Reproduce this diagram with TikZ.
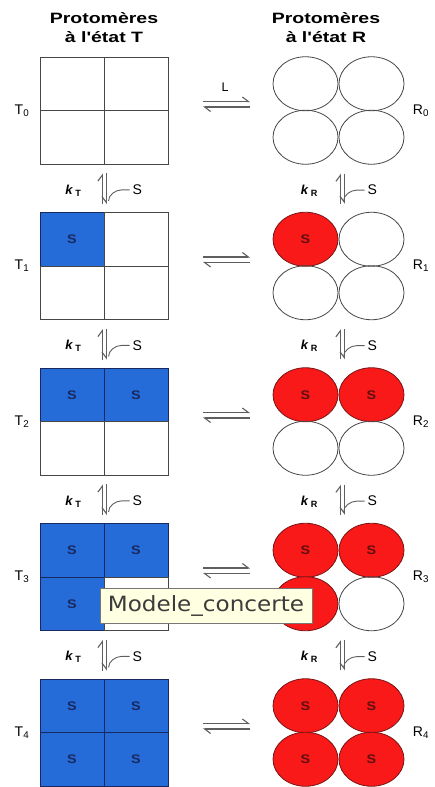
\documentclass[tikz,border=0pt]{standalone}
\usepackage{fontspec}
\setmainfont{Liberation Sans}
\newfontfamily\tipfont{DejaVu Sans}
\usetikzlibrary{arrows.meta,shapes.geometric,calc}
\definecolor{protblue}{RGB}{38,108,216}
\definecolor{navytext}{RGB}{25,40,95}
\definecolor{protred}{RGB}{250,25,25}
\definecolor{rededge}{RGB}{120,20,20}
\definecolor{redtext}{RGB}{95,15,15}
\definecolor{edgegray}{RGB}{70,70,70}
\definecolor{arrowgray}{RGB}{95,95,95}
\definecolor{tipfill}{RGB}{255,255,225}
\definecolor{tipedge}{RGB}{118,118,118}
\definecolor{tiptext}{RGB}{60,60,60}
\newcommand{\wide}[2][1.3]{\scalebox{#1}[1]{#2}}

\tikzset{
	cellT/.style={draw=edgegray, line width=0.8pt, minimum width=64pt, minimum height=53.5pt, inner sep=0pt},
	cellTS/.style={cellT, fill=protblue, draw=navytext, text=navytext, font=\bfseries\fontsize{12.5}{14}\selectfont},
	cellR/.style={ellipse, draw=edgegray, line width=0.8pt, minimum width=65pt, minimum height=54pt, inner sep=0pt},
	cellRS/.style={cellR, fill=protred, draw=rededge, text=redtext, font=\bfseries\fontsize{12.5}{14}\selectfont},
	harp/.style={draw=arrowgray, line width=1.1pt, -{Straight Barb[left,length=6pt,width=9pt]}},
	harpr/.style={draw=arrowgray, line width=1.1pt, -{Straight Barb[right,length=6pt,width=9pt]}},
	conn/.style={draw=arrowgray, line width=0.9pt},
	lbl/.style={font=\fontsize{14}{16}\selectfont, inner sep=0pt},
	klbl/.style={font=\bfseries\fontsize{13}{15}\selectfont, inner sep=0pt},
	head/.style={align=center, font=\bfseries\fontsize{15}{19}\selectfont, inner sep=0pt},
	tip/.style={draw=tipedge, fill=tipfill, line width=0.8pt, minimum width=212pt, minimum height=35pt, inner sep=0pt, text=tiptext, font=\tipfont\fontsize{21}{24}\selectfont}
}

\begin{document}
\begin{tikzpicture}[x=1pt, y=-1pt]
	\useasboundingbox (0,0) rectangle (434,787);
	% Headers:
	\node[head] (headT) at (104,28) {\wide{Protomères}\\\wide{à l\textquotesingle état T}};
	\node[head] (headR) at (326,28) {\wide{Protomères}\\\wide{à l\textquotesingle état R}};
	% Rows of protomers:
	\foreach \i in {0,...,4}{
		\pgfmathsetmacro\ty{57+155.5*\i}
		\foreach \k/\cx/\rx/\cy in {1/72/305.5/26.75, 2/136/371.5/26.75, 3/72/305.5/80.25, 4/136/371.5/80.25}{
			\ifnum\k>\i
				\node[cellT] (t\i-\k) at (\cx,\ty+\cy) {};
				\node[cellR] (r\i-\k) at (\rx,\ty+\cy) {};
			\else
				\node[cellTS] (t\i-\k) at (\cx,\ty+\cy) {\wide[1.15]{S}};
				\node[cellRS] (r\i-\k) at (\rx,\ty+\cy) {\ifnum\i\k=33\else\wide[1.15]{S}\fi};
			\fi
		}
		\node[lbl] (tl\i) at (22,\ty+53.5) {T\textsubscript{\i}};
		\node[lbl] (rl\i) at (421,\ty+53.5) {R\textsubscript{\i}};
		\coordinate (eq\i-w) at (203,\ty+44.5);
		\coordinate (eq\i-e) at (250,\ty+44.5);
		\draw[harp] (eq\i-w) -- (eq\i-e);
		\draw[harp] ($(eq\i-e)+(0,5.5)$) -- ($(eq\i-w)+(0,5.5)$);
		\coordinate (rb\i) at (r\i-3.south -| r\i-3.east);
		\coordinate (rt\i) at (r\i-1.north -| r\i-1.east);
	}
	\node[lbl, font=\fontsize{12.5}{14}\selectfont] (lig) at (225,87) {L};
	% Binding steps:
	\foreach \i in {0,...,3}{
		\pgfmathtruncatemacro\j{\i+1}
		\draw[harp] ($(t\j-1.north east)+(-2,-8)$) -- ($(t\i-3.south east)+(-2,9)$);
		\draw[harpr] ($(t\i-3.south east)+(2,9)$) -- ($(t\j-1.north east)+(2,-8)$);
		\node[lbl] (st\i) at ($(t\i-3.south east)+(33,25.5)$) {S};
		\node[klbl] (kt\i) at ($(t\i-3.south east)+(-31,26)$) {\textit{k}\,\textsubscript{T}};
		\draw[conn] ([xshift=-3pt]st\i.west) -- ++(-8,0) .. controls +(-6,0) and +(0,-6) .. ++(-13,11);
		\draw[harp] ($(rt\j)+(2,-8)$) -- ($(rb\i)+(2,9)$);
		\draw[harpr] ($(rb\i)+(6,9)$) -- ($(rt\j)+(6,-8)$);
		\node[lbl] (sr\i) at ($(rb\i)+(34,25.5)$) {S};
		\node[klbl] (kr\i) at ($(rb\i)+(-29,26)$) {\textit{k}\,\textsubscript{R}};
		\draw[conn] ([xshift=-3pt]sr\i.west) -- ++(-8,0) .. controls +(-6,0) and +(0,-6) .. ++(-13,11);
	}
	% Tooltip:
	\node[tip] (tooltip) at (206,605.5) {\wide[1.1]{Modele\_concerte}};
\end{tikzpicture}
\end{document}
